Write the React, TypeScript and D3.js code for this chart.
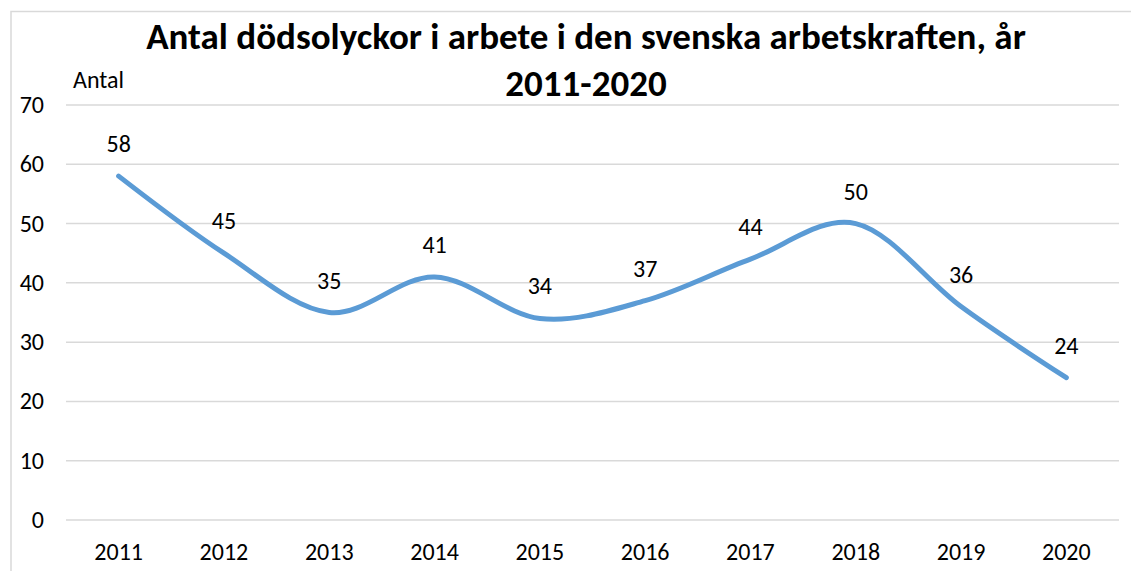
import React from 'react'
import * as d3 from 'd3'

const years = ['2011', '2012', '2013', '2014', '2015', '2016', '2017', '2018', '2019', '2020']
const deaths = [58, 45, 35, 41, 34, 37, 44, 50, 36, 24]
const yTicks = [0, 10, 20, 30, 40, 50, 60, 70]
const titleLines = ['Antal dödsolyckor i arbete i den svenska arbetskraften, år', '2011-2020']

const W = 1131, H = 571
const font = 'Carlito, Calibri, Lato, "Open Sans", sans-serif'

export default function App() {
    const x = d3.scaleBand().domain(years).range([66, 1119])
    const y = d3.scaleLinear().domain([0, 70]).range([520, 105])

    const pts = years.map((yr, i) => ({ yr, v: deaths[i] }))
    const line = d3.line<{ yr: string, v: number }>()
        .x(d => (x(d.yr) as number) + x.bandwidth() / 2)
        .y(d => y(d.v))
        .curve(d3.curveCatmullRom.alpha(0))

    return (
        <svg width={W} height={H} style={{ position: 'absolute', left: 0, top: 0 }}>
            <rect width={W} height={H} fill="#fff" />
            <path d={`M11,${H} V11.5 H${W}`} fill="none" stroke="#d9d9d9" strokeWidth={1.5} />
            {titleLines.map((t, i) => (
                <text key={i} x={586} y={49 + i * 47} textAnchor="middle" fontFamily={font}
                    fontWeight="bold" fontSize={37} fill="#000">{t}</text>
            ))}
            <text x={73} y={88} fontFamily={font} fontSize={24} fill="#000">Antal</text>
            {yTicks.map(t => (
                <g key={t}>
                    <line x1={66} x2={1119} y1={y(t)} y2={y(t)} stroke="#d9d9d9" strokeWidth={1.5} />
                    <text x={44} y={y(t) + 8} textAnchor="end" fontFamily={font} fontSize={24} fill="#000">{t}</text>
                </g>
            ))}
            {years.map(yr => (
                <text key={yr} x={(x(yr) as number) + x.bandwidth() / 2} y={560} textAnchor="middle"
                    fontFamily={font} fontSize={24} fill="#000">{yr}</text>
            ))}
            <path d={line(pts) || ''} fill="none" stroke="#5b9bd5" strokeWidth={5} strokeLinecap="round" />
            {pts.map(p => (
                <text key={p.yr} x={(x(p.yr) as number) + x.bandwidth() / 2} y={y(p.v) - 24}
                    textAnchor="middle" fontFamily={font} fontSize={24} fill="#000">{p.v}</text>
            ))}
        </svg>
    )
}
